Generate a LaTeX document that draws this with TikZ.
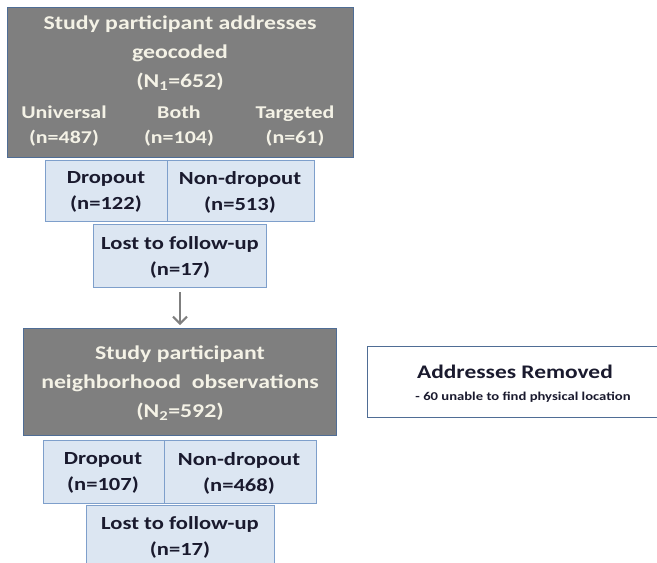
\documentclass[tikz,border=0pt]{standalone}
\usepackage{fontspec}
\setmainfont[FakeStretch=1.22]{Carlito}
\usetikzlibrary{arrows.meta}
\definecolor{grayfill}{HTML}{7F7F7F}
\definecolor{grayedge}{HTML}{4F6D95}
\definecolor{bluefill}{HTML}{DCE6F2}
\definecolor{blueedge}{HTML}{7E9FCB}
\definecolor{lighttext}{HTML}{F4F2E6}
\definecolor{darktext}{HTML}{1A1A2E}
\tikzset{
  graybox/.style={draw=grayedge, fill=grayfill, line width=1.2pt, inner sep=0pt},
  bluebox/.style={draw=blueedge, fill=bluefill, line width=1.2pt, inner sep=0pt},
  bluetext/.style={text=darktext, align=center, inner sep=0pt, font=\bfseries\fontsize{18.5}{26}\selectfont},
  whitebox/.style={draw=grayedge, fill=white, line width=1.2pt, inner sep=0pt},
  titletext/.style={text=lighttext, align=center, inner sep=0pt, font=\bfseries\fontsize{19.5}{29}\selectfont},
  subtext/.style={text=lighttext, align=center, inner sep=0pt, font=\bfseries\fontsize{18}{25}\selectfont},
  flowarrow/.style={draw=grayfill, line width=2pt, -{Straight Barb[length=7pt,width=14pt]}}
}
\begin{document}
\begin{tikzpicture}[x=1pt,y=-1pt]
\clip (0,0) rectangle (657,563);
\useasboundingbox (0,0) rectangle (657,563);
% top gray box
\node[graybox, minimum width=346pt, minimum height=150pt, anchor=north west] (top) at (7,7) {};
\node[titletext] (toptitle) at (180,53) {Study participant addresses\\geocoded\\(N\textsubscript{1}=652)};
\node[subtext] (univ) at (64,126) {Universal\\(n=487)};
\node[subtext] (both) at (179,126) {Both\\(n=104)};
\node[subtext] (targ) at (295,126) {Targeted\\(n=61)};
% blue boxes row 1
\node[bluebox, minimum width=122pt, minimum height=61pt, anchor=north west] (drop1) at (45,160) {};
\node[bluebox, minimum width=147pt, minimum height=61pt, anchor=north west] (non1) at (167,160) {};
\node[bluetext] (drop1t) at (106,192) {Dropout\\(n=122)};
\node[bluetext] (non1t) at (240,192) {Non-dropout\\(n=513)};
\node[bluebox, minimum width=173pt, minimum height=63pt, anchor=north west] (lost1) at (93,224) {};
\node[bluetext] (lost1t) at (180,257) {Lost to follow-up\\(n=17)};
% arrow
\coordinate (arrtop) at (180,292);
\draw[flowarrow] (arrtop) -- (180,325) coordinate (arrbot);
% second gray box
\node[graybox, minimum width=313pt, minimum height=107pt, anchor=north west] (mid) at (23,328) {};
\node[titletext] (midtitle) at (180,383) {Study participant\\neighborhood\ \ observations\\(N\textsubscript{2}=592)};
% blue boxes row 2
\node[bluebox, minimum width=121pt, minimum height=63pt, anchor=north west] (drop2) at (43,440) {};
\node[bluebox, minimum width=152pt, minimum height=63pt, anchor=north west] (non2) at (164,440) {};
\node[bluetext] (drop2t) at (103,473) {Dropout\\(n=107)};
\node[bluetext] (non2t) at (239,473) {Non-dropout\\(n=468)};
\node[bluebox, minimum width=188pt, minimum height=70pt, anchor=north west] (lost2) at (86,505) {};
\node[bluetext] (lost2t) at (180,537) {Lost to follow-up\\(n=17)};
% removed box
\node[whitebox, minimum width=300pt, minimum height=71pt, anchor=north west] (removed) at (367,346) {};
\node[text=darktext, inner sep=0pt, font=\bfseries\fontsize{19.2}{23}\selectfont] (remtitle) at (515,372) {Addresses Removed};
\node[text=darktext, inner sep=0pt, font=\bfseries\fontsize{12}{14}\selectfont] (remsub) at (523,397) {- 60 unable\ to find physical location};
\end{tikzpicture}
\end{document}
